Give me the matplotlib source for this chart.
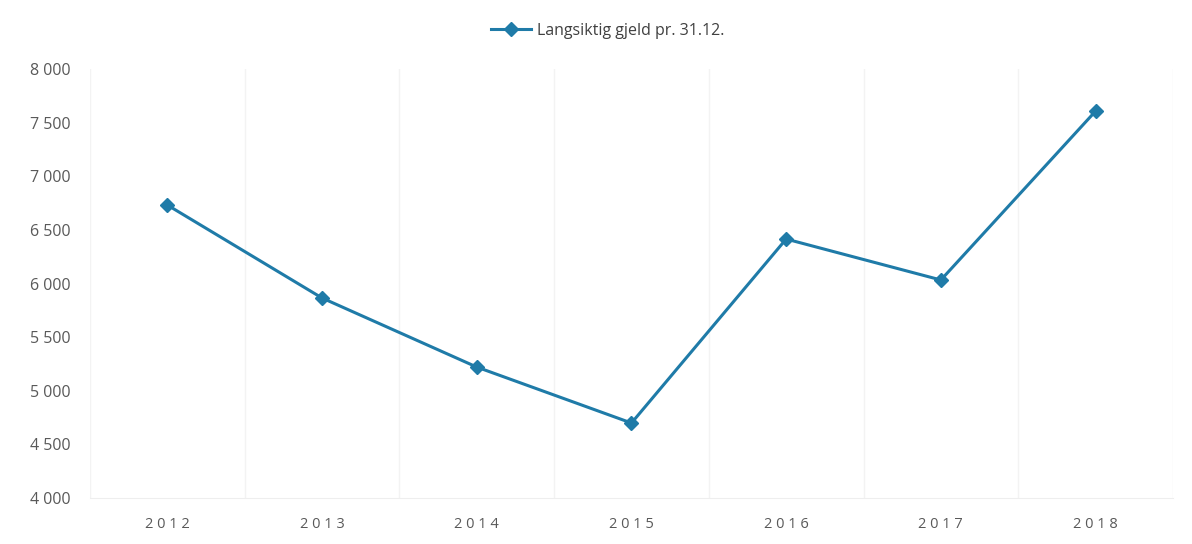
import matplotlib.pyplot as plt
from matplotlib.ticker import FuncFormatter

years = ['2012', '2013', '2014', '2015', '2016', '2017', '2018']
gjeld = [6732, 5865, 5221, 4699, 6415, 6033, 7608]
series_name = 'Langsiktig gjeld pr. 31.12.'

plt.rcParams['font.family'] = ['Open Sans', 'DejaVu Sans']

fig = plt.figure(figsize=(11.92, 5.44), dpi=100)
ax = fig.add_axes([0.0755, 0.0846, 0.9085, 0.7884])

x = list(range(len(years)))
ax.plot(x, gjeld, color='#1f7ba8', linewidth=2.2, marker='D', markersize=7,
        label=series_name)

ax.set_xlim(-0.5, len(years) - 0.5)
ax.set_ylim(4000, 8000)
ax.set_yticks(range(4000, 8001, 500))
ax.yaxis.set_major_formatter(FuncFormatter(lambda v, p: f'{int(v):,}'.replace(',', ' ')))
ax.set_xticks(x)
ax.set_xticklabels([' '.join(y) for y in years])

# faint vertical lines between categories
ax.set_xticks([i + 0.5 for i in range(-1, len(years))], minor=True)
ax.grid(True, which='minor', axis='x', color='#f3f3f3', linewidth=1)
ax.tick_params(which='both', length=0)
ax.tick_params(axis='y', labelsize=11.5, labelcolor='#595959', pad=14)
ax.tick_params(axis='x', labelsize=10.5, labelcolor='#595959', pad=14)

for s in ['top', 'right', 'left']:
    ax.spines[s].set_visible(False)
ax.spines['bottom'].set_color('#eeeeee')

fig.legend(loc='upper center', bbox_to_anchor=(0.51, 0.985), frameon=False,
           fontsize=11.5, handlelength=2.5, handletextpad=0.4, labelcolor='#404040')

fig.savefig('out.png', dpi=100)
